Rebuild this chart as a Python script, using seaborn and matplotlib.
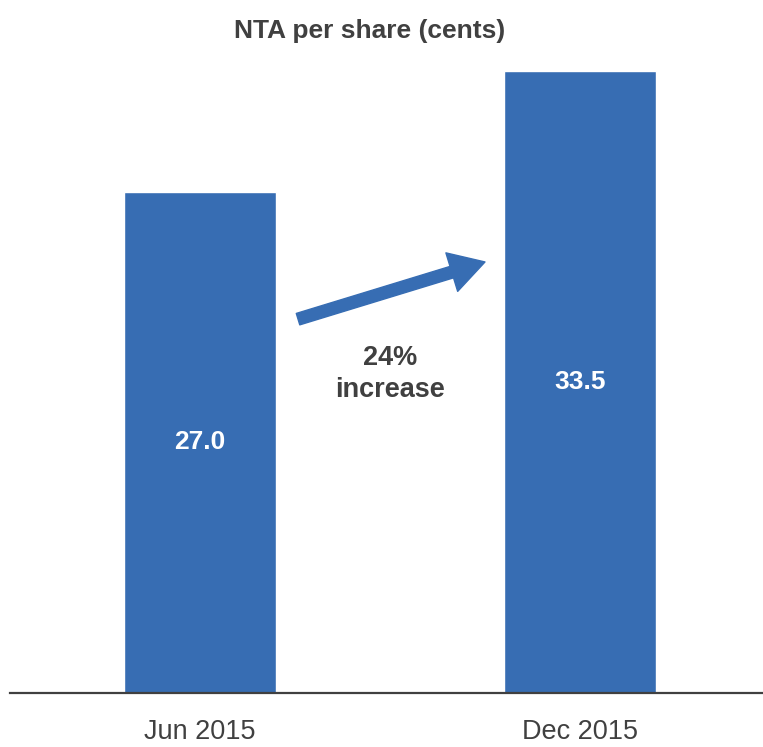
import matplotlib
matplotlib.use("Agg")
import matplotlib.pyplot as plt
import pandas as pd
import seaborn as sns

periods = ["Jun 2015", "Dec 2015"]
nta_cents = [27.0, 33.5]
value_labels = ["27.0", "33.5"]
change_text = "24%\nincrease"
title = "NTA per share (cents)"

BAR_COLOR = "#376DB3"
TEXT_COLOR = "#404040"

sns.set_theme(style="white")
plt.rcParams["font.family"] = ["Liberation Sans", "DejaVu Sans"]

df = pd.DataFrame({"period": periods, "nta": nta_cents})

fig = plt.figure(figsize=(7.63, 7.47), dpi=100)
ax = fig.add_axes([10 / 763, 54 / 747, 753 / 763, 633 / 747])

sns.barplot(data=df, x="period", y="nta", color=BAR_COLOR, saturation=1,
            width=0.4, ax=ax)

ax.set_xlim(-0.5, 1.4816)
ax.set_ylim(0, 34.1)

for container in ax.containers:
    ax.bar_label(container, labels=value_labels, label_type="center",
                 color="white", fontsize=19, fontweight="bold")

# arrow between the two bars
ax.annotate("", xy=(0.75, 23.22), xytext=(0.258, 20.14),
            arrowprops=dict(facecolor=BAR_COLOR, edgecolor=BAR_COLOR,
                            width=8.6, headwidth=29, headlength=25, shrink=0))
ax.text(0.5, 17.2, change_text, ha="center", va="center", fontsize=19.5,
        fontweight="bold", color=TEXT_COLOR, linespacing=1.3)

sns.despine(ax=ax, left=True, top=True, right=True)
ax.spines["bottom"].set_color(TEXT_COLOR)
ax.spines["bottom"].set_linewidth(1.6)
ax.set_yticks([])
ax.set_xlabel("")
ax.set_ylabel("")
ax.tick_params(axis="x", length=0, pad=19, labelsize=19.5, labelcolor=TEXT_COLOR)

fig.text(370 / 763, 1 - 31 / 747, title, ha="center", va="center",
         fontsize=19, fontweight="bold", color=TEXT_COLOR)

fig.savefig("out.png", dpi=100)
